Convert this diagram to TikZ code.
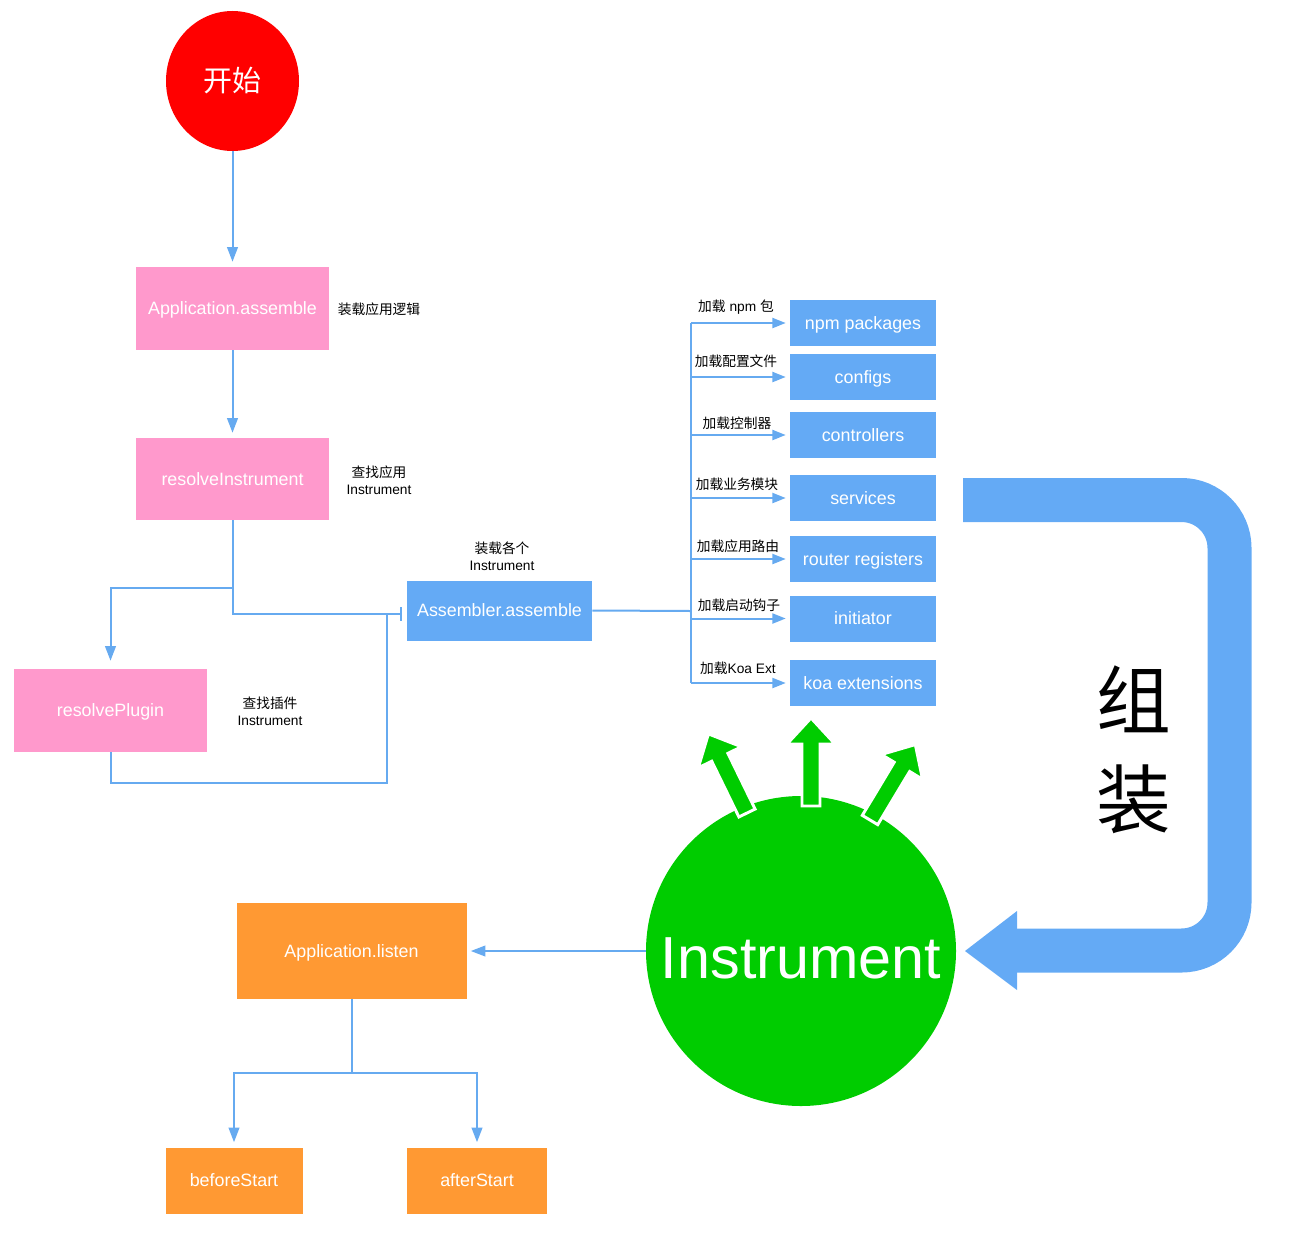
\documentclass[tikz,border=0pt]{standalone}
\usepackage{fontspec}
\setmainfont{Liberation Sans}
\newfontfamily\cjk{Noto Sans CJK SC}
\usetikzlibrary{shapes.geometric,arrows.meta}
\definecolor{pinkC}{RGB}{255,153,204}
\definecolor{blueC}{RGB}{100,170,245}
\definecolor{lineC}{RGB}{102,170,240}
\definecolor{orangeC}{RGB}{255,153,51}
\definecolor{greenC}{RGB}{0,204,0}
\definecolor{redC}{RGB}{255,0,0}
\tikzset{
  boxtext/.style={text=white, inner sep=0pt, text height=9.6pt, text depth=0pt, font=\fontsize{13.4}{16}\selectfont},
  pinkbox/.style={boxtext, fill=pinkC, minimum width=193*0.75pt, minimum height=83*0.75pt},
  bluebox/.style={boxtext, fill=blueC, minimum width=146*0.75pt, minimum height=46*0.75pt},
  orangebox/.style={boxtext, fill=orangeC},
  note/.style={font=\fontsize{10.3}{12.9}\selectfont, align=center, inner sep=0pt},
  conn/.style={draw=lineC, line width=1.5pt},
  arr/.style={conn, -{Triangle[length=11pt,width=8pt]}, shorten >=3.75pt},
  arrb/.style={conn, -{Triangle[length=10pt,width=7.5pt]}, shorten >=3pt},
  garrow/.style={fill=greenC, draw=white, line width=2.2pt, line join=miter}
}
\begin{document}
\begin{tikzpicture}[x=0.75pt,y=-0.75pt]
\useasboundingbox (0,0) rectangle (1294,1256);

% start
\node[ellipse, fill=redC, minimum width=133*0.75pt, minimum height=140*0.75pt, inner sep=0pt,
      text=white, font=\cjk\fontsize{21.75}{26}\selectfont] (start) at (232.5,81) {开始};

% left column
\node[pinkbox] (appasm) at (232.5,308.5) {Application.assemble};
\node[pinkbox, minimum height=82*0.75pt] (resinst) at (232.5,479) {resolveInstrument};
\node[pinkbox] (resplug) at (110.5,710.5) {resolvePlugin};
\node[boxtext, fill=blueC, minimum width=185*0.75pt, minimum height=60*0.75pt] (asm) at (499.5,610.5) {Assembler.assemble};

\node[note] (n1) at (379,309) {\cjk 装载应用逻辑};
\node[note] (n2) at (379,480) {{\cjk 查找应用}\\Instrument};
\node[note] (n3) at (270,711) {{\cjk 查找插件}\\Instrument};
\node[note] (n4) at (502,556) {{\cjk 装载各个}\\Instrument};

\draw[arr] (start) -- (appasm);
\draw[arr] (appasm) -- (resinst);
\coordinate (asmin) at (402,614);
\coordinate (split) at (232.5,588);
\coordinate (join) at (387,614);
\draw[conn, -{Bar[width=10pt]}] (resinst.south) |- (asmin);
\draw[arr, shorten >=6pt] (split) -| (resplug);
\draw[conn] (resplug.south) -- ++(0,31) -| (join);

% right column boxes
\node[bluebox] (npm) at (863,323) {npm packages};
\node[bluebox] (cfg) at (863,377) {configs};
\node[bluebox] (ctrl) at (863,435) {controllers};
\node[bluebox] (svc) at (863,498) {services};
\node[bluebox] (rtr) at (863,559) {router registers};
\node[bluebox] (ini) at (863,618.5) {initiator};
\node[bluebox] (koa) at (863,683) {koa extensions};

\coordinate (trunk) at (691,611);
\coordinate (ttop) at (691,323);
\coordinate (tbot) at (691,683);
\draw[conn] (asm.east) -- (trunk);
\draw[conn] (ttop) -- (tbot);
\foreach \b in {npm,cfg,ctrl,svc,rtr,ini,koa}{
  \draw[arrb] (\b.west -| trunk) -- (\b.west);
}
\node[note] (b1) at (736,307) {{\cjk 加载} npm {\cjk 包}};
\node[note] (b2) at (736,361) {\cjk 加载配置文件};
\node[note] (b3) at (737,423) {\cjk 加载控制器};
\node[note] (b4) at (737,484) {\cjk 加载业务模块};
\node[note] (b5) at (738,546) {\cjk 加载应用路由};
\node[note] (b6) at (739,605) {\cjk 加载启动钩子};
\node[note] (b7) at (738,668) {{\cjk 加载}Koa Ext};

% Instrument circle
\node[circle, fill=greenC, minimum size=310*0.75pt, inner sep=0pt, text=white,
      text height=40.9pt, text depth=0pt,
      font=\fontsize{44.5}{50}\selectfont] (inst) at (801,951) {Instrument};

% green arrows
\foreach \bx/\by/\rot in {747/813/26, 811/806/0, 870/820/-31}{
  \begin{scope}[shift={(\bx,\by)}, rotate=\rot]
    \filldraw[garrow] (-9,0) -- (-9,-62) -- (-24,-62) -- (0,-88) -- (24,-62) -- (9,-62) -- (9,0) -- cycle;
  \end{scope}
}

% big U arrow
\draw[draw=blueC, line width=44*0.75pt, rounded corners=48*0.75pt]
  (963,500) -- (1229.5,500) -- (1229.5,950.5) -- (1015,950.5);
\fill[blueC] (965,951) -- (1017,911) -- (1017,990) -- cycle;
\node[font=\cjk\fontsize{56}{74}\selectfont, align=center, inner sep=0pt] (zz) at (1134,750) {组\\装};

% bottom
\node[orangebox, minimum width=230*0.75pt, minimum height=96*0.75pt] (listen) at (351.5,951) {Application.listen};
\node[orangebox, minimum width=137*0.75pt, minimum height=66*0.75pt] (before) at (234,1180.5) {beforeStart};
\node[orangebox, minimum width=140*0.75pt, minimum height=66*0.75pt] (after) at (477,1180.5) {afterStart};
\draw[arr, shorten >=3pt] (inst) -- (listen);
\coordinate (lsplit) at (351.5,1073);
\draw[conn] (listen.south) -- (lsplit);
\draw[arr] (lsplit) -| (before);
\draw[arr] (lsplit) -| (after);
\end{tikzpicture}
\end{document}
